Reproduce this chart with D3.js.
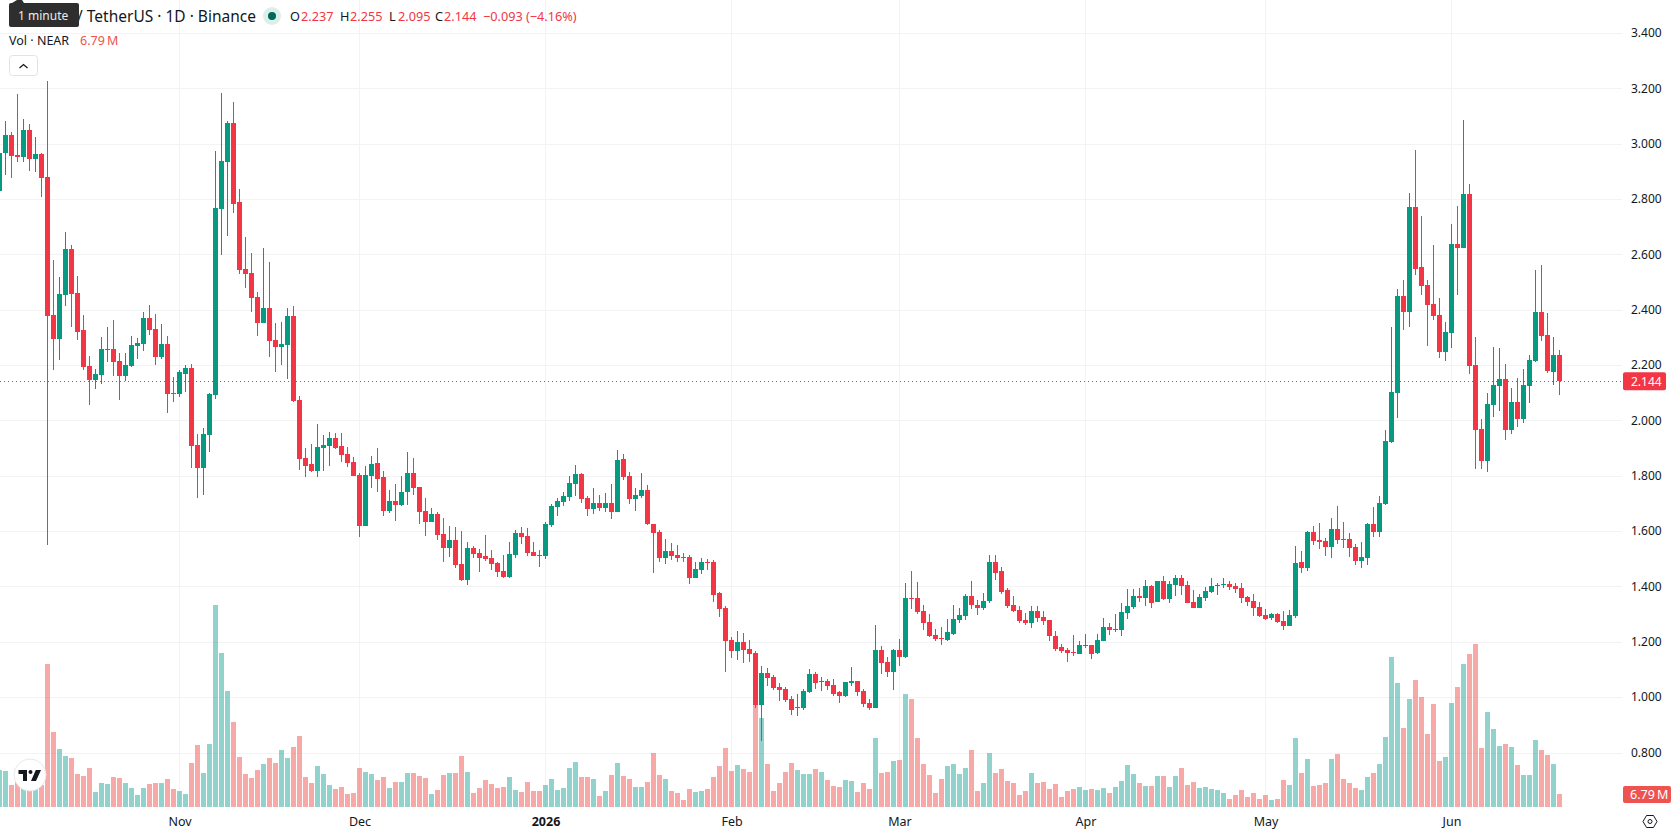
<!DOCTYPE html>
<html>
<head>
<meta charset="utf-8">
<title>NEAR / TetherUS 1D</title>
<script src="https://cdn.jsdelivr.net/npm/d3@7/dist/d3.min.js"></script>
<style>
  html, body { margin: 0; padding: 0; background: #fff; overflow: hidden; }
  svg { display: block; }
  text { font-family: "Noto Sans", "Open Sans", sans-serif; }
</style>
</head>
<body>
<svg id="chart" width="1678" height="835"></svg>
<script>
// Daily session prices, oldest first, ten sessions per row
const opens = [
  2.83,2.967,3.032,2.96,2.953,3.05,2.946,2.964,2.881,2.383,
  2.296,2.454,2.62,2.461,2.329,2.198,2.148,2.166,2.256,2.26,
  2.216,2.162,2.198,2.271,2.278,2.372,2.332,2.231,2.278,2.1,
  2.097,2.169,2.191,1.912,1.829,1.948,2.093,2.765,2.935,3.076,
  2.79,2.548,2.534,2.447,2.354,2.409,2.293,2.267,2.274,2.38,
  2.075,1.865,1.843,1.818,1.901,1.908,1.937,1.908,1.879,1.85,
  1.803,1.622,1.8,1.847,1.796,1.676,1.709,1.698,1.742,1.811,
  1.76,1.675,1.635,1.664,1.592,1.541,1.57,1.483,1.425,1.541,
  1.523,1.512,1.505,1.487,1.458,1.436,1.516,1.596,1.585,1.527,
  1.515,1.512,1.625,1.69,1.708,1.726,1.773,1.809,1.722,1.682,
  1.704,1.686,1.704,1.672,1.864,1.802,1.719,1.73,1.751,1.628,
  1.599,1.505,1.53,1.516,1.509,1.509,1.433,1.462,1.491,1.491,
  1.378,1.325,1.208,1.168,1.201,1.176,1.161,0.972,1.088,1.074,
  1.037,1.03,0.994,0.961,0.961,1.019,1.085,1.056,1.059,1.045,
  1.019,1.005,1.052,1.059,1.023,0.979,0.961,1.172,1.128,1.092,
  1.172,1.147,1.361,1.361,1.314,1.274,1.227,1.216,1.208,1.23,
  1.281,1.296,1.368,1.336,1.325,1.35,1.492,1.456,1.39,1.336,
  1.317,1.281,1.27,1.314,1.292,1.281,1.223,1.183,1.172,1.165,
  1.157,1.187,1.19,1.161,1.205,1.256,1.245,1.243,1.305,1.327,
  1.366,1.359,1.402,1.345,1.42,1.355,1.406,1.431,1.406,1.345,
  1.323,1.359,1.381,1.402,1.406,1.41,1.402,1.395,1.363,1.348,
  1.327,1.298,1.287,1.301,1.276,1.258,1.294,1.489,1.467,1.598,
  1.569,1.565,1.543,1.608,1.572,1.572,1.543,1.493,1.504,1.627,
  1.598,1.699,1.924,2.101,2.452,2.394,2.773,2.556,2.492,2.423,
  2.383,2.249,2.318,2.64,2.625,2.82,2.202,1.971,1.855,2.058,
  2.127,2.152,1.967,2.069,2.007,2.127,2.217,2.394,2.311,2.177,
  2.237
];
const highs = [
  3.0,3.083,3.043,3.18,3.09,3.072,3.025,2.967,3.228,2.581,
  2.519,2.682,2.635,2.523,2.383,2.234,2.187,2.303,2.34,2.365,
  2.245,2.245,2.307,2.3,2.394,2.419,2.387,2.351,2.307,2.158,
  2.184,2.202,2.206,1.952,1.974,2.1,2.975,3.184,3.083,3.152,
  2.837,2.664,2.606,2.465,2.624,2.573,2.354,2.358,2.409,2.416,
  2.09,1.901,1.916,1.988,1.948,1.959,1.955,1.955,1.905,1.869,
  1.811,1.836,1.872,1.901,1.818,1.749,1.774,1.8,1.887,1.865,
  1.763,1.722,1.686,1.672,1.65,1.621,1.617,1.603,1.563,1.549,
  1.538,1.588,1.534,1.491,1.516,1.563,1.607,1.617,1.614,1.563,
  1.534,1.635,1.701,1.722,1.744,1.802,1.842,1.813,1.73,1.759,
  1.733,1.74,1.773,1.896,1.882,1.817,1.759,1.813,1.769,1.628,
  1.607,1.574,1.559,1.552,1.523,1.516,1.491,1.505,1.501,1.498,
  1.382,1.332,1.219,1.241,1.234,1.208,1.168,1.114,1.107,1.081,
  1.052,1.037,1.005,1.012,1.03,1.103,1.092,1.074,1.067,1.067,
  1.023,1.056,1.11,1.059,1.03,0.994,1.263,1.187,1.147,1.176,
  1.212,1.416,1.459,1.419,1.336,1.303,1.248,1.256,1.285,1.336,
  1.325,1.376,1.423,1.354,1.379,1.514,1.514,1.474,1.397,1.368,
  1.332,1.307,1.332,1.332,1.314,1.281,1.241,1.194,1.179,1.227,
  1.205,1.23,1.19,1.23,1.288,1.27,1.303,1.341,1.392,1.392,
  1.395,1.424,1.406,1.42,1.439,1.42,1.442,1.442,1.42,1.388,
  1.373,1.399,1.431,1.413,1.431,1.42,1.413,1.413,1.366,1.373,
  1.345,1.319,1.305,1.305,1.312,1.316,1.547,1.529,1.601,1.619,
  1.63,1.576,1.648,1.692,1.634,1.594,1.554,1.561,1.63,1.688,
  1.729,1.967,2.34,2.477,2.51,2.824,2.98,2.741,2.51,2.636,
  2.444,2.358,2.712,2.777,3.088,2.857,2.304,2.007,2.101,2.267,
  2.264,2.206,2.119,2.155,2.188,2.239,2.546,2.564,2.39,2.304,
  2.255
];
const lows = [
  2.8,2.888,2.877,2.935,2.935,2.902,2.899,2.808,1.55,2.184,
  2.22,2.416,2.34,2.292,2.184,2.057,2.115,2.133,2.213,2.162,
  2.075,2.144,2.195,2.224,2.253,2.311,2.202,2.224,2.028,2.068,
  2.086,2.104,1.829,1.72,1.734,1.887,2.079,2.599,2.667,2.751,
  2.53,2.479,2.394,2.307,2.354,2.231,2.177,2.202,2.151,2.068,
  1.821,1.796,1.814,1.796,1.818,1.836,1.898,1.85,1.832,1.8,
  1.582,1.622,1.756,1.745,1.658,1.666,1.637,1.691,1.698,1.734,
  1.626,1.585,1.635,1.57,1.491,1.509,1.469,1.422,1.407,1.505,
  1.454,1.494,1.462,1.436,1.433,1.433,1.505,1.556,1.512,1.512,
  1.473,1.501,1.617,1.657,1.693,1.712,1.73,1.704,1.657,1.664,
  1.675,1.672,1.646,1.672,1.788,1.701,1.675,1.722,1.625,1.451,
  1.491,1.483,1.498,1.491,1.491,1.411,1.433,1.447,1.462,1.346,
  1.292,1.092,1.143,1.136,1.125,1.128,0.961,0.845,1.041,1.027,
  0.987,0.983,0.936,0.932,0.954,1.016,1.03,1.023,1.027,1.005,
  0.979,1.001,1.041,1.005,0.965,0.954,0.961,1.085,1.074,1.027,
  1.114,1.143,1.321,1.303,1.245,1.219,1.205,1.19,1.205,1.227,
  1.27,1.281,1.321,1.299,1.317,1.343,1.427,1.376,1.325,1.31,
  1.27,1.263,1.252,1.274,1.263,1.205,1.168,1.161,1.128,1.15,
  1.157,1.179,1.139,1.157,1.205,1.227,1.237,1.222,1.283,1.319,
  1.345,1.33,1.323,1.345,1.352,1.341,1.366,1.37,1.341,1.323,
  1.323,1.348,1.377,1.37,1.395,1.388,1.377,1.341,1.33,1.294,
  1.29,1.28,1.28,1.269,1.243,1.258,1.287,1.449,1.457,1.551,
  1.536,1.511,1.504,1.554,1.54,1.507,1.478,1.467,1.478,1.58,
  1.58,1.695,1.92,2.011,2.329,2.34,2.528,2.455,2.271,2.365,
  2.228,2.217,2.264,2.455,2.625,2.17,1.826,1.826,1.816,2.014,
  2.036,1.931,1.953,1.978,1.993,2.065,2.213,2.289,2.173,2.13,
  2.095
];
const closes = [
  2.967,3.032,2.957,2.953,3.05,2.946,2.964,2.877,2.381,2.296,
  2.458,2.62,2.458,2.321,2.195,2.148,2.169,2.26,2.26,2.213,
  2.162,2.202,2.274,2.282,2.372,2.329,2.231,2.278,2.097,2.097,
  2.177,2.191,1.908,1.829,1.952,2.097,2.769,2.938,3.076,2.783,
  2.544,2.53,2.443,2.354,2.409,2.289,2.267,2.278,2.38,2.071,
  1.861,1.836,1.818,1.905,1.912,1.937,1.901,1.876,1.847,1.8,
  1.622,1.803,1.843,1.792,1.676,1.709,1.698,1.745,1.811,1.756,
  1.672,1.635,1.664,1.588,1.541,1.57,1.48,1.425,1.541,1.52,
  1.505,1.502,1.483,1.454,1.436,1.52,1.596,1.581,1.523,1.512,
  1.512,1.628,1.693,1.712,1.73,1.777,1.809,1.719,1.682,1.704,
  1.686,1.704,1.672,1.86,1.798,1.719,1.733,1.751,1.628,1.596,
  1.505,1.53,1.512,1.505,1.505,1.433,1.465,1.491,1.487,1.371,
  1.32,1.205,1.168,1.201,1.172,1.157,0.972,1.088,1.07,1.034,
  1.027,0.99,0.957,0.965,1.023,1.085,1.052,1.059,1.041,1.012,
  1.005,1.056,1.059,1.019,0.976,0.961,1.172,1.125,1.092,1.172,
  1.147,1.361,1.357,1.31,1.27,1.223,1.212,1.212,1.237,1.285,
  1.299,1.368,1.336,1.325,1.35,1.492,1.452,1.383,1.332,1.314,
  1.277,1.27,1.314,1.288,1.277,1.223,1.176,1.168,1.161,1.161,
  1.19,1.19,1.157,1.208,1.256,1.245,1.248,1.308,1.33,1.366,
  1.359,1.402,1.341,1.42,1.355,1.41,1.431,1.402,1.341,1.323,
  1.363,1.384,1.402,1.406,1.41,1.399,1.392,1.359,1.345,1.323,
  1.294,1.283,1.301,1.272,1.258,1.298,1.486,1.467,1.598,1.565,
  1.562,1.543,1.608,1.569,1.569,1.54,1.493,1.507,1.627,1.598,
  1.702,1.928,2.105,2.452,2.394,2.773,2.549,2.488,2.419,2.38,
  2.249,2.322,2.64,2.625,2.82,2.199,1.967,1.855,2.061,2.13,
  2.152,1.967,2.069,2.007,2.13,2.22,2.394,2.307,2.181,2.239,
  2.144
];
// Traded volume per session, in millions of NEAR
const volumes = [
  19.3,18.8,11.5,14.1,10.6,13.2,11.5,11.5,74.7,39.2,
  30.3,26.6,25.6,17.2,16.2,20.4,7.8,12.5,12.0,15.7,
  15.1,12.5,9.9,6.3,9.9,12.0,12.5,12.5,14.6,9.4,
  8.4,6.8,23.0,32.4,17.8,32.9,105.5,80.4,60.6,44.4,
  26.1,17.2,15.1,19.3,22.5,25.6,23.0,29.8,25.6,31.3,
  37.1,15.7,12.5,21.4,17.2,11.5,9.4,10.4,6.8,7.3,
  20.4,18.3,17.2,14.1,15.7,9.9,13.1,13.1,17.8,17.8,
  16.2,15.1,6.8,8.9,16.7,17.8,17.8,26.6,18.3,7.3,
  9.9,14.1,12.0,9.9,10.4,15.7,8.9,7.8,13.1,8.4,
  8.4,11.5,14.6,8.9,9.9,20.4,23.5,15.7,15.7,14.6,
  5.7,8.4,16.7,23.0,16.2,14.6,10.4,10.4,13.1,28.2,
  16.7,14.6,8.4,7.3,3.7,9.4,7.8,8.4,9.4,15.7,
  21.4,30.8,18.8,21.9,19.8,18.3,53.3,46.5,22.5,8.4,
  12.5,18.3,23.0,19.3,17.2,17.2,19.8,18.3,14.1,11.0,
  10.4,14.1,13.6,7.8,12.5,9.4,36.0,17.8,18.3,24.0,
  24.5,59.0,56.4,36.0,22.5,16.7,7.3,14.6,21.4,22.5,
  17.2,20.4,29.8,8.4,12.5,28.2,17.8,19.8,13.6,12.5,
  6.3,8.4,17.8,12.5,13.1,9.4,12.0,5.2,8.4,9.4,
  10.4,8.9,9.4,8.9,9.9,7.3,10.4,13.6,21.9,17.2,
  12.5,11.0,11.0,16.2,16.2,10.4,16.2,20.4,11.5,13.1,
  9.9,10.4,9.4,8.9,7.3,4.2,6.3,8.9,5.2,7.3,
  4.2,6.3,3.7,4.2,14.1,11.5,36.0,17.8,25.1,11.0,
  11.5,12.5,25.1,27.7,14.6,12.5,9.9,8.9,15.7,17.8,
  22.5,36.6,78.3,64.8,41.3,56.4,66.3,57.5,38.1,53.8,
  24.0,26.1,54.3,62.7,74.7,79.9,85.1,30.8,49.6,40.7,
  31.9,32.9,31.3,21.9,16.7,16.7,35.0,29.8,27.2,22.5,
  6.79
];
const priceTicks = [3.4, 3.2, 3.0, 2.8, 2.6, 2.4, 2.2, 2.0, 1.8, 1.6, 1.4, 1.2, 1.0, 0.8];
const monthTicks = ["2025-11-01", "2025-12-01", "2026-01-01", "2026-02-01", "2026-03-01", "2026-04-01", "2026-05-01", "2026-06-01"];
const monthLabels = ["Nov", "Dec", "2026", "Feb", "Mar", "Apr", "May", "Jun"];
const firstSession = "2025-10-02";
const lastPrice = 2.144;
const lastVolumeLabel = "6.79\u2009M";

const UP = "#089981", DOWN = "#F23645";
const VOL_UP = "#26A69A", VOL_DOWN = "#EF5350";
const GRID = "#f2f3f5", INK = "#131722";

const svg = d3.select("#chart");
const start = new Date(firstSession + "T00:00:00Z");
const days = d3.utcDay.range(start, d3.utcDay.offset(start, opens.length));
const sessions = days.map((date, i) => ({
  date, o: opens[i], h: highs[i], l: lows[i], c: closes[i], v: volumes[i], up: closes[i] >= opens[i]
}));

const x = d3.scaleUtc().domain([days[0], days[days.length - 1]]).range([-0.5, 1559.5]);
const y = d3.scaleLinear().domain([3.4, 0.8]).range([33.6, 753]);
const yVol = d3.scaleLinear().domain([0, 105.5]).range([807, 605]);
const PANE_RIGHT = 1622, PANE_BOTTOM = 808;
const monthDates = monthTicks.map(s => new Date(s + "T00:00:00Z"));

// Grid
const grid = svg.append("g").attr("shape-rendering", "crispEdges").attr("stroke", GRID);
grid.selectAll("line.h").data(priceTicks).join("line").attr("class", "h")
  .attr("x1", 0).attr("x2", PANE_RIGHT)
  .attr("y1", d => Math.floor(y(d)) + 0.5).attr("y2", d => Math.floor(y(d)) + 0.5);
grid.selectAll("line.v").data(monthDates).join("line").attr("class", "v")
  .attr("y1", 0).attr("y2", PANE_BOTTOM)
  .attr("x1", d => Math.floor(x(d)) + 0.5).attr("x2", d => Math.floor(x(d)) + 0.5);

// Volume pane, sitting behind the candles
svg.append("g").attr("shape-rendering", "crispEdges")
  .selectAll("rect").data(sessions).join("rect")
  .attr("x", d => Math.round(x(d.date) - 2.5))
  .attr("width", 5)
  .attr("y", d => yVol(d.v))
  .attr("height", d => yVol(0) - yVol(d.v))
  .attr("fill", d => d.up ? VOL_UP : VOL_DOWN)
  .attr("fill-opacity", 0.5);

// Last price line
svg.append("line")
  .attr("x1", 0).attr("x2", PANE_RIGHT)
  .attr("y1", Math.floor(y(lastPrice)) + 0.5).attr("y2", Math.floor(y(lastPrice)) + 0.5)
  .attr("stroke", DOWN).attr("stroke-width", 1).attr("stroke-dasharray", "1 3")
  .attr("shape-rendering", "crispEdges");

// Candles
const candles = svg.append("g").attr("shape-rendering", "crispEdges")
  .selectAll("g").data(sessions).join("g")
  .attr("fill", d => d.up ? UP : DOWN);
candles.append("rect")
  .attr("x", d => Math.round(x(d.date) - 0.5)).attr("width", 1)
  .attr("y", d => y(d.h)).attr("height", d => y(d.l) - y(d.h));
candles.append("rect")
  .attr("x", d => Math.round(x(d.date) - 2.5)).attr("width", 5)
  .attr("y", d => y(Math.max(d.o, d.c)))
  .attr("height", d => Math.max(1, Math.abs(y(d.o) - y(d.c))));

// Price axis
const yAxis = d3.axisRight(y).tickValues(priceTicks).tickSize(0).tickPadding(0).tickFormat(d3.format(".3f"));
const yG = svg.append("g").attr("transform", `translate(1631,-0.6)`).call(yAxis);
yG.select(".domain").remove();
yG.selectAll("text").attr("fill", INK).attr("font-size", 12).attr("x", 0)
  .style("font-family", '"Noto Sans", sans-serif');

// Time axis
const xAxis = d3.axisBottom(x).tickValues(monthDates).tickSize(0).tickPadding(0)
  .tickFormat((d, i) => monthLabels[i]);
const xG = svg.append("g").attr("transform", `translate(0,808)`).call(xAxis);
xG.select(".domain").remove();
xG.selectAll("text").attr("fill", INK).attr("font-size", 12.5).attr("y", 9)
  .style("font-family", '"Noto Sans", sans-serif')
  .attr("font-weight", (d, i) => monthLabels[i] === "2026" ? 700 : 400);

// Badges on the price axis
svg.append("rect").attr("x", 1623).attr("y", y(lastPrice) - 9).attr("width", 43).attr("height", 18)
  .attr("rx", 2).attr("fill", DOWN);
svg.append("text").attr("x", 1631).attr("y", y(lastPrice) + 4.5).attr("fill", "#fff")
  .attr("font-size", 12).text(lastPrice.toFixed(3));
svg.append("rect").attr("x", 1623).attr("y", 786).attr("width", 48).attr("height", 17)
  .attr("rx", 2).attr("fill", VOL_DOWN);
svg.append("text").attr("x", 1630).attr("y", 799).attr("fill", "#fff")
  .attr("font-size", 12.5).text(lastVolumeLabel);

// Settings glyph
const gear = svg.append("g").attr("transform", "translate(1650,821.5)").attr("fill", "none").attr("stroke", INK).attr("stroke-width", 1);
gear.append("path").attr("d", "M-7,0 L-3.5,-6 L3.5,-6 L7,0 L3.5,6 L-3.5,6 Z");
gear.append("circle").attr("r", 2);

// Attribution badge
const badge = svg.append("g").attr("transform", "translate(30,775)");
badge.append("circle").attr("r", 16).attr("fill", "#fff").attr("stroke", "#e6e8ec").attr("stroke-width", 1);
badge.append("path").attr("fill", "#131722")
  .attr("d", "M-11.5,-5 H-3 V6 H-7 V-1 H-11.5 Z M5.8,-5 H11 L6,6 H1 Z");
badge.append("circle").attr("cx", 0.5).attr("cy", -3).attr("r", 2).attr("fill", "#131722");

// Legend rows
svg.append("text").attr("x", 77).attr("y", 21.5).attr("font-size", 15.5).attr("fill", INK)
  .text("/ TetherUS \u00B7 1D \u00B7 Binance");
svg.append("circle").attr("cx", 272).attr("cy", 16).attr("r", 9).attr("fill", "#dcefeb");
svg.append("circle").attr("cx", 272).attr("cy", 16).attr("r", 4).attr("fill", "#006a5a");

const ohlc = [
  { x: 290, t: "O", c: INK }, { x: 301, t: "2.237", c: DOWN },
  { x: 340, t: "H", c: INK }, { x: 350, t: "2.255", c: DOWN },
  { x: 389, t: "L", c: INK }, { x: 398, t: "2.095", c: DOWN },
  { x: 435, t: "C", c: INK }, { x: 444, t: "2.144", c: DOWN },
  { x: 483, t: "\u22120.093 (\u22124.16%)", c: DOWN }
];
svg.selectAll("text.ohlc").data(ohlc).join("text").attr("class", "ohlc")
  .attr("x", d => d.x).attr("y", 21).attr("font-size", 12.7).attr("fill", d => d.c).text(d => d.t);

svg.append("text").attr("x", 9).attr("y", 45).attr("font-size", 12.5).attr("fill", INK).text("Vol \u00B7 NEAR");
svg.append("text").attr("x", 80).attr("y", 45).attr("font-size", 12.5).attr("fill", VOL_DOWN).text(lastVolumeLabel);

svg.append("rect").attr("x", 9.5).attr("y", 55.5).attr("width", 28).attr("height", 20).attr("rx", 3)
  .attr("fill", "#fff").attr("stroke", "#e0e3eb");
svg.append("path").attr("d", "M19.5,68 L23.5,64.5 L27.5,68").attr("fill", "none").attr("stroke", INK).attr("stroke-width", 1.2);

// Tooltip on the symbol title
svg.append("path").attr("d", "M12,3 L17,0 L22,0 L24,3 Z").attr("fill", "#2e2e2e");
svg.append("rect").attr("x", 9).attr("y", 3).attr("width", 70).attr("height", 24).attr("rx", 2).attr("fill", "#2e2e2e");
svg.append("text").attr("x", 18).attr("y", 19.5).attr("font-size", 12).attr("fill", "#ececec").text("1 minute");
</script>
</body>
</html>
